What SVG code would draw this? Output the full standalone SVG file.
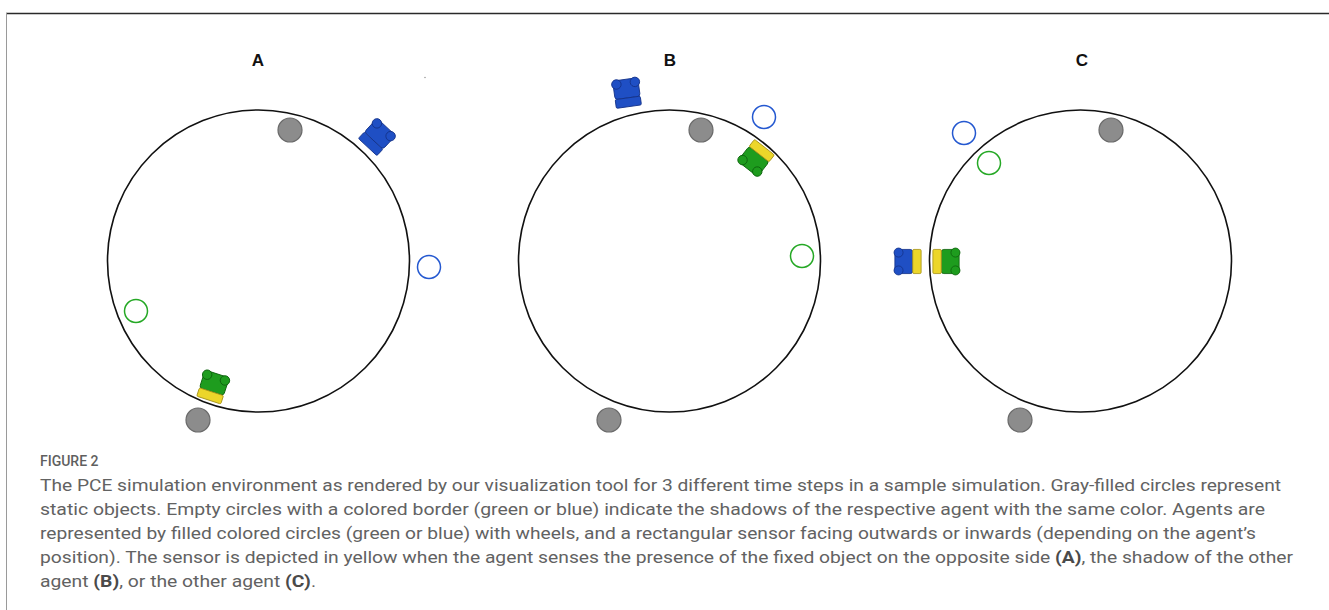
<svg xmlns="http://www.w3.org/2000/svg" width="1329" height="610" viewBox="0 0 1329 610">
  <style>
    .arena { fill: none; stroke: #111; stroke-width: 1.6; }
    .object { fill: #8c8c8c; stroke: #6a6a6a; stroke-width: 1.2; }
    .shadow-blue { fill: none; stroke: #2458d0; stroke-width: 1.5; }
    .shadow-green { fill: none; stroke: #25a825; stroke-width: 1.5; }
    .panel-label { font-family: "Liberation Sans", Arial, sans-serif; font-weight: bold; font-size: 17px; fill: #111; text-anchor: middle; }
    .caption { font-family: Roboto, "Liberation Sans", sans-serif; font-size: 16px; fill: #626262; }
    .caption-head { font-family: Roboto, "Liberation Sans", sans-serif; font-size: 14px; font-weight: 500; fill: #5f5f5f; }
    .b { font-weight: bold; fill: #4a4a4a; }
  </style>
  <defs>
    <!-- agent drawn with its sensor facing +x; wheels at the back corners -->
    <g id="agent-blue-off">
      <rect x="-12.5" y="-11.5" width="17" height="23" rx="2.5" fill="#1f4fc4" stroke="#14338a" stroke-width="0.8"/>
      <rect x="4.5" y="-11.5" width="8" height="23" rx="1.2" fill="#1f4fc4" stroke="#14338a" stroke-width="0.8"/>
      <circle cx="-9" cy="-8.5" r="4.3" fill="#1f4fc4" stroke="#14338a" stroke-width="0.8"/>
      <circle cx="-9" cy="8.5" r="4.3" fill="#1f4fc4" stroke="#14338a" stroke-width="0.8"/>
    </g>
    <g id="agent-blue-on">
      <rect x="-12.5" y="-11.5" width="17" height="23" rx="2.5" fill="#1f4fc4" stroke="#14338a" stroke-width="0.8"/>
      <rect x="4.5" y="-11.5" width="8" height="23" rx="1.2" fill="#ecd62a" stroke="#a8951a" stroke-width="0.8"/>
      <circle cx="-9" cy="-8.5" r="4.3" fill="#1f4fc4" stroke="#14338a" stroke-width="0.8"/>
      <circle cx="-9" cy="8.5" r="4.3" fill="#1f4fc4" stroke="#14338a" stroke-width="0.8"/>
    </g>
    <g id="agent-green-on">
      <rect x="-12.5" y="-11.5" width="17" height="23" rx="2.5" fill="#1e9c1e" stroke="#0e640e" stroke-width="0.8"/>
      <rect x="4.5" y="-11.5" width="8" height="23" rx="1.2" fill="#ecd62a" stroke="#a8951a" stroke-width="0.8"/>
      <circle cx="-9" cy="-8.5" r="4.3" fill="#1e9c1e" stroke="#0e640e" stroke-width="0.8"/>
      <circle cx="-9" cy="8.5" r="4.3" fill="#1e9c1e" stroke="#0e640e" stroke-width="0.8"/>
    </g>
  </defs>

  <rect width="1329" height="610" fill="#ffffff"/>

  <!-- figure frame -->
  <line x1="6" y1="13.5" x2="1329" y2="13.5" stroke="#2a2a2a" stroke-width="1.4"/>
  <line x1="6.5" y1="13" x2="6.5" y2="610" stroke="#9a9a9a" stroke-width="1"/>

  <!-- panel A -->
  <g id="panel-a">
    <text class="panel-label" x="258" y="66">A</text>
    <circle class="arena" cx="258.5" cy="261" r="151"/>
    <circle class="object" cx="290" cy="130" r="12"/>
    <circle class="object" cx="198" cy="420" r="12"/>
    <circle class="shadow-blue" cx="429" cy="267" r="11.5"/>
    <circle class="shadow-green" cx="136" cy="311" r="11.5"/>
    <use href="#agent-blue-off" transform="translate(377,137) rotate(133) scale(1.1)"/>
    <use href="#agent-green-on" transform="translate(213,387) rotate(108) scale(1.1)"/>
    <circle cx="425" cy="77.5" r="0.7" fill="#888"/>
  </g>

  <!-- panel B -->
  <g id="panel-b">
    <text class="panel-label" x="670" y="66">B</text>
    <circle class="arena" cx="669.5" cy="261" r="151"/>
    <circle class="object" cx="701" cy="130" r="12"/>
    <circle class="object" cx="609" cy="420" r="12"/>
    <circle class="shadow-blue" cx="764" cy="117" r="11.5"/>
    <circle class="shadow-green" cx="802" cy="256" r="11.5"/>
    <use href="#agent-blue-off" transform="translate(627,93) rotate(82) scale(1.1)"/>
    <use href="#agent-green-on" transform="translate(756,158) rotate(-52) scale(1.1)"/>
  </g>

  <!-- panel C -->
  <g id="panel-c">
    <text class="panel-label" x="1082" y="66">C</text>
    <circle class="arena" cx="1080.5" cy="261" r="151"/>
    <circle class="object" cx="1111" cy="130" r="12"/>
    <circle class="object" cx="1020" cy="420" r="12"/>
    <circle class="shadow-blue" cx="964" cy="133" r="11.5"/>
    <circle class="shadow-green" cx="989" cy="163" r="11.5"/>
    <use href="#agent-blue-on" transform="translate(908,261.5) scale(1.05)"/>
    <use href="#agent-green-on" transform="translate(946,261.5) rotate(180) scale(1.05)"/>
  </g>

  <!-- caption -->
  <g id="caption">
    <text class="caption-head" x="40" y="466">FIGURE 2</text>
    <text class="caption" x="40" y="491" textLength="1241" lengthAdjust="spacingAndGlyphs">The PCE simulation environment as rendered by our visualization tool for 3 different time steps in a sample simulation. Gray-filled circles represent</text>
    <text class="caption" x="40" y="515" textLength="1225" lengthAdjust="spacingAndGlyphs">static objects. Empty circles with a colored border (green or blue) indicate the shadows of the respective agent with the same color. Agents are</text>
    <text class="caption" x="40" y="539" textLength="1216" lengthAdjust="spacingAndGlyphs">represented by filled colored circles (green or blue) with wheels, and a rectangular sensor facing outwards or inwards (depending on the agent’s</text>
    <text class="caption" x="40" y="563" textLength="1253" lengthAdjust="spacingAndGlyphs">position). The sensor is depicted in yellow when the agent senses the presence of the fixed object on the opposite side <tspan class="b">(A)</tspan>, the shadow of the other</text>
    <text class="caption" x="40" y="587" textLength="276" lengthAdjust="spacingAndGlyphs">agent <tspan class="b">(B)</tspan>, or the other agent <tspan class="b">(C)</tspan>.</text>
  </g>
</svg>
